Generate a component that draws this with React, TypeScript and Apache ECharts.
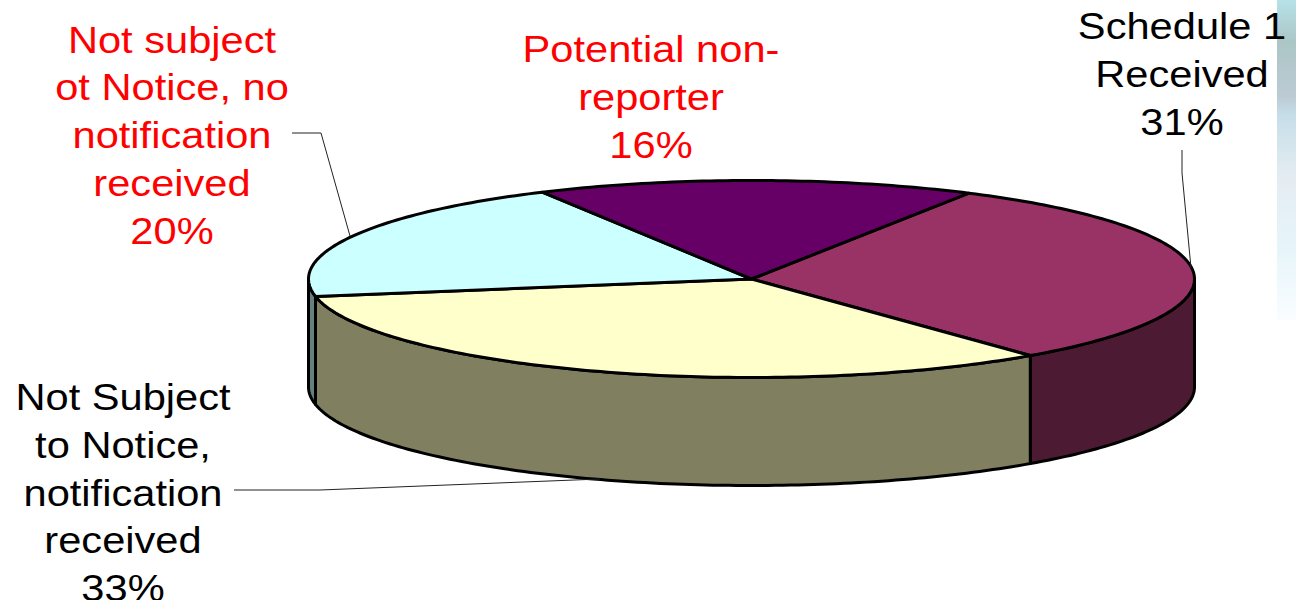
import React, { useEffect, useRef } from "react";
import * as echarts from "echarts";

const categories = [
  "Schedule 1 Received",
  "Not Subject to Notice, notification received",
  "Not subject ot Notice, no notification received",
  "Potential non-reporter",
];
const values = [31, 33, 20, 16];
const topColors = ["#993366", "#FFFFCC", "#CCFFFF", "#660066"];
const wallColors = ["#4D1A33", "#808060", "#668080", "#330033"];

const labelLines = [
  ["Schedule 1", "Received", "31%"],
  ["Not Subject", "to Notice,", "notification", "received", "33%"],
  ["Not subject", "ot Notice, no", "notification", "received", "20%"],
  ["Potential non-", "reporter", "16%"],
];
const labelColors = ["#000000", "#000000", "#FF0000", "#FF0000"];

const CX = 751.5;
const CY = 279;
const RX = 443;
const RY = 98.5;
const DEPTH = 108;
const START = 60.6;
const LINE_STEP = 47.8;
const total = values.reduce((a, b) => a + b, 0);

function spans() {
  let a = START;
  return values.map((v) => {
    const from = a;
    a -= (v / total) * 360;
    return [from, a];
  });
}
const pt = (deg: number, dy = 0) => {
  const r = (deg * Math.PI) / 180;
  return [CX + RX * Math.cos(r), CY - RY * Math.sin(r) + dy];
};
function arc(from: number, to: number, dy = 0) {
  const n = Math.max(2, Math.ceil(Math.abs(from - to)));
  const out: number[][] = [];
  for (let i = 0; i <= n; i++) out.push(pt(from + ((to - from) * i) / n, dy));
  return out;
}

const black = "#000000";
const edge = { stroke: black, lineWidth: 3, lineJoin: "round" };

function renderWall(params: any) {
  const [from, to] = spans()[params.dataIndex];
  const children: any[] = [];
  [[0, -180], [-360, -540]].forEach(([hi, lo]) => {
    const a = Math.min(from, hi);
    const b = Math.max(to, lo);
    if (a > b) {
      const top = arc(a, b);
      const bottom = arc(b, a, DEPTH);
      children.push({
        type: "polygon",
        shape: { points: top.concat(bottom) },
        style: { fill: wallColors[params.dataIndex], ...edge },
      });
    }
  });
  return { type: "group", children };
}

function renderTop(params: any) {
  const [from, to] = spans()[params.dataIndex];
  return {
    type: "polygon",
    shape: { points: [[CX, CY]].concat(arc(from, to)) },
    style: { fill: topColors[params.dataIndex], ...edge },
  };
}

const leaders = [
  [[1182, 150], [1182, 173], [1191, 268]],
  [[234, 490], [320, 490], [600, 479]],
  [[292, 133], [321, 133], [350, 236]],
];
const labelCenters = [
  [1182, 74],
  [123, 492.5],
  [172, 135],
  [651, 97],
];

export default function App() {
  const ref = useRef<HTMLDivElement>(null);
  useEffect(() => {
    document.body.style.margin = "0";
    const chart = echarts.init(ref.current!, null, { renderer: "svg" });
    const labelElements = labelLines.flatMap((lines, i) =>
      lines.map((line, j) => ({
        type: "text",
        z: 10,
        x: labelCenters[i][0],
        y: labelCenters[i][1] + (j - (lines.length - 1) / 2) * LINE_STEP,
        scaleX: 1.125,
        style: {
          text: line,
          fill: labelColors[i],
          font: '37px "Liberation Sans", Arial, sans-serif',
          lineHeight: 22,
          align: "center",
          verticalAlign: "middle",
        },
      }))
    );
    chart.setOption({
      animation: false,
      backgroundColor: "#ffffff",
      tooltip: { show: false },
      graphic: [
        {
          type: "rect",
          z: 0,
          shape: { x: 1277, y: 0, width: 19, height: 320 },
          style: {
            fill: new echarts.graphic.LinearGradient(0, 0, 0, 1, [
              { offset: 0, color: "#B6E2E8" },
              { offset: 0.13, color: "#ACC6C6" },
              { offset: 0.3, color: "#BCCAD4" },
              { offset: 0.36, color: "#C6DEE8" },
              { offset: 0.55, color: "#E4ECF2" },
              { offset: 0.78, color: "#E6F5FA" },
              { offset: 1, color: "#FAFDFF" },
            ]),
          },
        },
        ...leaders.map((points) => ({
          type: "polyline",
          z: 5,
          shape: { points },
          style: { stroke: "#222222", lineWidth: 1, fill: "none" },
        })),
        ...labelElements,
      ],
      series: [
        {
          type: "custom",
          name: "walls",
          coordinateSystem: "none",
          silent: true,
          z: 2,
          data: categories.map((name, i) => ({ name, value: values[i] })),
          renderItem: renderWall,
        },
        {
          type: "custom",
          name: "tops",
          coordinateSystem: "none",
          silent: true,
          z: 3,
          data: categories.map((name, i) => ({ name, value: values[i] })),
          renderItem: renderTop,
        },
      ],
    });
    return () => chart.dispose();
  }, []);
  return <div ref={ref} style={{ width: 1296, height: 600 }} />;
}
